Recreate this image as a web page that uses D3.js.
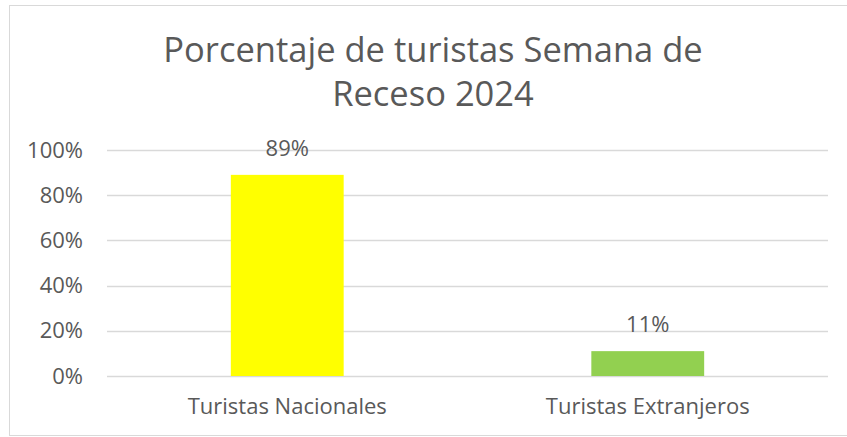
<!DOCTYPE html>
<html>
<head>
<meta charset="utf-8">
<script src="https://cdn.jsdelivr.net/npm/d3@7"></script>
<style>
  body { margin: 0; background: #fff; }
  text { font-family: "Open Sans", "Liberation Sans", Arial, sans-serif; fill: #595959; }
</style>
</head>
<body>
<svg id="chart"></svg>
<script>
// datos del gráfico
var categorias = ["Turistas Nacionales", "Turistas Extranjeros"];
var valores = [0.89, 0.11];
var colores = ["#FFFF00", "#92D050"];
var ticks = [0, 0.2, 0.4, 0.6, 0.8, 1.0];
var titulo = ["Porcentaje de turistas Semana de", "Receso 2024"];

var width = 847, height = 437;
var margin = { top: 150, right: 19, bottom: 61, left: 107 };

var svg = d3.select("#chart")
  .attr("width", width)
  .attr("height", height);

// borde del área del gráfico
svg.append("rect")
  .attr("x", 9.5).attr("y", 5.5)
  .attr("width", width - 4).attr("height", 430)
  .attr("fill", "#fff")
  .attr("stroke", "#d9d9d9");

// título
svg.append("g").selectAll("text")
  .data(titulo)
  .enter().append("text")
  .attr("x", 433)
  .attr("y", function(d, i) { return 62 + i * 44; })
  .attr("text-anchor", "middle")
  .style("font-size", "34.5px")
  .text(function(d) { return d; });

var x = d3.scaleBand()
  .domain(categorias)
  .range([margin.left, width - margin.right])
  .padding(0);

var y = d3.scaleLinear()
  .domain([0, 1])
  .range([height - margin.bottom, margin.top]);

// líneas de cuadrícula
svg.append("g").selectAll("line")
  .data(ticks)
  .enter().append("line")
  .attr("x1", margin.left)
  .attr("x2", width - margin.right)
  .attr("y1", function(d) { return Math.round(y(d)) + 0.5; })
  .attr("y2", function(d) { return Math.round(y(d)) + 0.5; })
  .attr("stroke", "#d9d9d9")
  .attr("stroke-width", 1.3);

// eje Y
var yAxis = svg.append("g")
  .attr("transform", "translate(" + (margin.left - 24) + ",0)")
  .call(d3.axisLeft(y).tickValues(ticks).tickFormat(d3.format(".0%")).tickSize(0).tickPadding(0));
yAxis.select(".domain").remove();
yAxis.selectAll("text").style("font-size", "22px").attr("fill", "#595959");

// barras
var anchoBarra = x.bandwidth() * 0.313;
svg.append("g").selectAll("rect")
  .data(valores)
  .enter().append("rect")
  .attr("x", function(d, i) { return x(categorias[i]) + (x.bandwidth() - anchoBarra) / 2; })
  .attr("y", function(d) { return y(d); })
  .attr("width", anchoBarra)
  .attr("height", function(d) { return y(0) - y(d); })
  .attr("fill", function(d, i) { return colores[i]; });

// etiquetas de datos
svg.append("g").selectAll("text")
  .data(valores)
  .enter().append("text")
  .attr("x", function(d, i) { return x(categorias[i]) + x.bandwidth() / 2; })
  .attr("y", function(d) { return y(d) - 19; })
  .attr("text-anchor", "middle")
  .style("font-size", "22px")
  .text(function(d) { return d3.format(".0%")(d); });

// eje X
var xAxis = svg.append("g")
  .attr("transform", "translate(0," + (height - margin.bottom) + ")")
  .call(d3.axisBottom(x).tickSize(0).tickPadding(22));
xAxis.select(".domain").remove();
xAxis.selectAll("text").style("font-size", "22px").attr("fill", "#595959");
</script>
</body>
</html>
